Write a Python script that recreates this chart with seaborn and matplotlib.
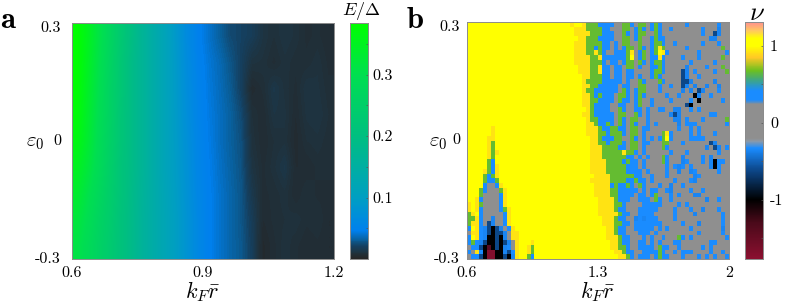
import matplotlib
matplotlib.use("Agg")
import matplotlib.pyplot as plt
from matplotlib.colors import LinearSegmentedColormap
import numpy as np
import seaborn as sns

# panel a: E/Delta on a coarse grid, top row first
energy_rows = [
    [.384,.35,.31,.27,.23,.195,.165,.14,.115,.09,.065,.048,.040,.032,.024,.021,.018,.012,.009,.012,.010,.007,.008,.006],
    [.384,.345,.305,.265,.225,.19,.165,.14,.115,.092,.068,.05,.042,.036,.028,.020,.011,.010,.007,.010,.008,.008,.010,.007],
    [.38,.34,.30,.26,.225,.19,.165,.14,.115,.093,.07,.052,.043,.037,.03,.020,.005,.008,.014,.010,.007,.012,.011,.008],
    [.375,.335,.295,.26,.22,.19,.165,.14,.115,.094,.072,.053,.044,.038,.032,.024,.009,.006,.012,.011,.006,.011,.012,.009],
    [.365,.33,.29,.255,.22,.19,.165,.14,.115,.095,.075,.055,.045,.038,.032,.026,.010,.006,.009,.010,.005,.009,.010,.008],
    [.35,.32,.285,.25,.215,.19,.165,.14,.115,.096,.077,.056,.046,.039,.033,.027,.012,.007,.010,.014,.006,.006,.008,.008],
    [.335,.305,.275,.245,.215,.187,.162,.14,.118,.098,.078,.058,.047,.04,.034,.028,.015,.007,.008,.010,.006,.009,.007,.007],
    [.32,.295,.265,.24,.21,.186,.16,.14,.12,.10,.08,.06,.047,.04,.034,.028,.018,.006,.008,.009,.010,.008,.009,.006],
    [.31,.285,.26,.235,.21,.185,.16,.14,.12,.10,.08,.06,.047,.04,.034,.029,.019,.004,.007,.010,.008,.006,.007,.006],
]

# panel b: nu per cell, one letter per cell, rows go top to bottom
nu_levels = {"Y": 1.05, "o": 0.92, "g": 0.66, "b": 0.36, ".": 0.0,
             "n": -0.36, "d": -0.62, "k": -1.0, "r": -1.4, "R": -1.7}
nu_left = [""] * 22 + [
    "YYYYYYo", "YYYYYYo", "YYYYYoo", "YYYYYog", "YYYYYog", "YYYYYogo", "YYYYYog", "YYYYYgb",
    "YYYYYgbo", "YYYYogbo", "YYYYgbgo", "YYYYgbbg", "YYYYb..bo", "YYYgb...go", "YYYg....bo",
    "YYob....bo", "oYog....bo", "oYob....bgo", "goYb.....bo", "ggob..n..bo", "goob.dn..bo",
    "bYobndkdn.bo", ".oobndkddn.oo", "bYobnkkdkn.oo", "bgbndkkdkdn.oYYYo", ".bbdkrkdknb.oYYog",
    "b.obkRRkkndboYYog", ".bbdkRRkkdknoYYgb",
]
nu_right = [
    "oYYogggbbbb..ggb.gg.bgb......b.......b..",
    "Yoooggggbb...gg.bgb.bgb..b.......b...n..",
    "Yoooogggbbb..gb.bgg..gb..........b..dn..",
    "YYoogggbbbb..gg.bg..bgbb...........nn...",
    "Yoooggggbb.b.gg..g..bggb..b......b...b..",
    "Yoooggbgbb.b.bgg.gb.bgog.....b........g.",
    "Yoooggogb..bbbgo.bg.bgYob.......b......b",
    "YooooggobbbbbbgY.bg.bbob....b...b.....g.",
    "Yoooogggb.bb.bgg.gb.bggb......b.....b...",
    "YYoooggobb.bb.gg.b..bbgb.....n....b...g.",
    "YYoooggobb.bb.bb....bggb....dn.b....b..g",
    "YYYoogggbb.bb.bb.b..bgb.....dn..b.......",
    "YYYoggggbbbbb.b..gb...gb....ddn.....n...",
    "YYYooggbbbbb.bb..gg...b..b..dn.n..n..n..",
    "YYYoggbbbbbb.gb.bgg...b.....n.n.dn...b..",
    "YYYoogbgbbb.ggb.bgb.....b..b...kn..b....",
    "YYYooggbbbb.gbb.bg..b....b....b.k.....b.",
    "YYYoogbbbb..bb..bg..b........dk.........",
    "YYYYogbbbb..gb..bb.b..bb..nn..b.b.......",
    "YYYoogbbbbb.gg..gb.b.....ndn.......bb...",
    "YYYYoggbbbb.gb.gg..b......nn.b...b.....g",
    "YYYYoogbbgb.gb.gb..b.b.....n.bbb.......b",
    "YYYYooogbbggbb.gg.bb.......b..b.b.......",
    "YYYYoooggbgggb.gg.b....gob....b.b...b...",
    "YYYYYoogbbbgg..gb.b.b.bgYb....bbbb......",
    "YYYYYooggbgggb.gg.bb...gg...b......dn...",
    "YYYYYoooggggbb.gg.b....gb.........n.dn.b",
    "YYYYYooogggggoggb.b......b...b.......b..",
    "YYYYYoooggggggbb.b.b...gb...n....b.n....",
    "YYYYYooooggggbgbb.b....gb...nb...b.nkbb.",
    "YYYYYoooogggggbbb.b.....b.bnb.b....nkb..",
    "YYYYYoooogggggbbbb.b....b..n..nb.....b..",
    "YYYYYYooooggggggbb..b...b......nb.......",
    "YYYYYoooooggggbbgbb.b.....b...bn........",
    "YYYYYYoooobgbbgb.gb...b..n..b...........",
    "YYYYYYooooggbbbbb.b.bb..bn....b..b......",
    "YYYYYYooooggbbbb.bb.bg...b.b...nn.......",
    "YYYYYYYoooogbbb..bbb.gb..b........n..b..",
    "YYYYYYYooooggb....bbbbb....b.b..........",
    "YYYYYYYoooogbb...bbbbb....b...b..n...b..",
    "YYYYYYYooooogbb..bbbb.....b....n......b.",
    "YYYYYYYYooogbb..nbnbbb....b...........b.",
    "YYYYYYYYoooggbb.bbbbbbb.....b...n.....b.",
    "YYYYYYYYYoogbb..bbbbb.b.b.....b.......n.",
    "YYYYYYYYYoogbb...bbb.b..........b.....b.",
    "YYYYYYYYYooogbb...b.b..b...gb.b........b",
    "YYYYYYYYYYoogbb..bb.b.b...bb.......bb...",
    "YYYYYYYYYYooggb..bbbb.gbb..b.....b.b....",
    "YYYYYYYYYYYoogbb..bbbbgb..b.bbb....b..b.",
    "YYYYYYYYYYYYoogb.bbb.bgbb...b...b.b.b..b",
]

x_labels_a = ["0.6", "0.9", "1.2"]
x_labels_b = ["0.6", "1.3", "2"]
y_labels = ["0.3", "0", "-0.3"]

plt.rcParams["mathtext.fontset"] = "cm"
plt.rcParams["font.family"] = ["cmr10", "DejaVu Serif"]
plt.rcParams["axes.unicode_minus"] = False
plt.rcParams["axes.formatter.use_mathtext"] = True
W, H = 789, 303
edge = "#8c8c8c"


def px_axes(fig, left, top, right, bottom):
    return fig.add_axes([left / W, 1 - bottom / H, (right - left) / W, (bottom - top) / H])


energy_stops = [(0.0, "#262626"), (0.01, "#1f333f"), (0.02, "#154060"), (0.03, "#0a5e98"), (0.045, "#0080ee"),
                (0.1, "#009fc2"), (0.2, "#00bf80"), (0.3, "#00df50"), (0.384, "#00ff00")]
energy_cmap = LinearSegmentedColormap.from_list("energy", [(v / 0.384, c) for v, c in energy_stops])

nu_min, nu_max = -1.77, 1.31
nu_stops = [(-1.77, "#8c1030"), (-1.3, "#4a0a1a"), (-1.0, "#000000"), (-0.6, "#0d4a8f"), (-0.33, "#1a8cff"),
            (-0.24, "#8c9aa8"), (-0.2, "#8f8f8f"), (0.24, "#8f8f8f"), (0.3, "#1a8cff"), (0.42, "#1a8cff"),
            (0.55, "#3da58a"), (0.68, "#6cc020"), (0.85, "#ffc825"), (1.0, "#ffff00"), (1.1, "#ffff00"),
            (1.2, "#ffc860"), (1.31, "#ff9090")]
nu_cmap = LinearSegmentedColormap.from_list(
    "nu", [((v - nu_min) / (nu_max - nu_min), c) for v, c in nu_stops], N=512)

energy = np.array(energy_rows)
nu = np.array([[nu_levels[c] for c in (a.ljust(26, "Y") + b).ljust(66, ".")[:66]]
               for a, b in zip(nu_left, nu_right)])

fig = plt.figure(figsize=(W / 100, H / 100), dpi=100)
ax_a = px_axes(fig, 72, 23, 334, 259)
cax_a = px_axes(fig, 350, 23, 368, 259)
ax_b = px_axes(fig, 467, 22, 729, 259)
cax_b = px_axes(fig, 745, 22, 763, 259)

sns.heatmap(energy, ax=ax_a, cbar_ax=cax_a, cmap=energy_cmap, vmin=0, vmax=0.384)
sns.heatmap(nu, ax=ax_b, cbar_ax=cax_b, cmap=nu_cmap, vmin=nu_min, vmax=nu_max)
# panel a is smooth in the source, so show the same grid with bilinear display on top
ax_a.imshow(energy, cmap=energy_cmap, vmin=0, vmax=0.384, aspect="auto", interpolation="bilinear",
            extent=(0, energy.shape[1], energy.shape[0], 0), zorder=2)

for ax, data, xlabs, ypad in [(ax_a, energy, x_labels_a, 8), (ax_b, nu, x_labels_b, 5)]:
    ny, nx = data.shape
    ax.set_xlim(0, nx)
    ax.set_ylim(ny, 0)
    ax.set_xticks([0, nx / 2, nx], xlabs, rotation=0, fontsize=11.5)
    ax.set_yticks([0.02 * ny, ny / 2, ny], y_labels, rotation=0, fontsize=11.5)
    ax.tick_params(axis="y", length=0, pad=ypad)
    ax.tick_params(axis="x", length=0, pad=5)
    ax.set_xlabel(r"$k_F\bar{r}$", fontsize=16, labelpad=0)
    for s in ax.spines.values():
        s.set_visible(True)
        s.set_color(edge)
        s.set_linewidth(0.7)
        s.set_zorder(3)

for cax, ticks, labs, minor, cpad in [(cax_a, [0.1, 0.2, 0.3], ["0.1", "0.2", "0.3"], [0.05, 0.15, 0.25, 0.35], 3),
                                      (cax_b, [-1, 0, 1], ["-1", "0", "1"], [-1.5, -0.5, 0.5], 5)]:
    cax.set_yticks(ticks, labs, fontsize=11.5)
    cax.set_yticks(minor, minor=True)
    cax.tick_params(axis="y", which="both", direction="in", length=1.5, width=0.5, color="#555555", pad=cpad, right=True, left=False)
    for s in cax.spines.values():
        s.set_visible(True)
        s.set_color(edge)
        s.set_linewidth(0.7)

fig.text(35 / W, 1 - 143 / H, r"$\varepsilon_0$", fontsize=15, ha="center", va="center")
fig.text(438 / W, 1 - 143 / H, r"$\varepsilon_0$", fontsize=15, ha="center", va="center")
fig.text(361 / W, 1 - 11 / H, r"$E/\Delta$", fontsize=13, ha="center", va="center")
fig.text(757 / W, 1 - 13 / H, r"$\nu$", fontsize=19, ha="center", va="center")
fig.text(0.5 / W, 1 - 28 / H, "a", fontsize=22, family="cmb10", ha="left", va="baseline")
fig.text(407 / W, 1 - 28 / H, "b", fontsize=22, family="cmb10", ha="left", va="baseline")

fig.savefig("out.png", dpi=100)
